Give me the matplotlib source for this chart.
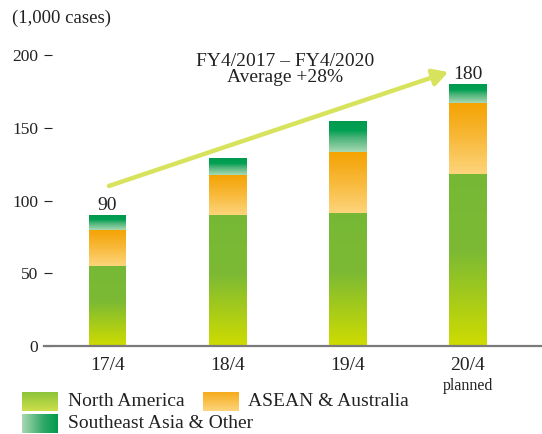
import numpy as np
import matplotlib
matplotlib.use("Agg")
import matplotlib.pyplot as plt
from matplotlib.colors import LinearSegmentedColormap

plt.rcParams['font.family'] = ['Liberation Serif', 'DejaVu Serif']

categories = ["17/4", "18/4", "19/4", "20/4"]
north_america = [55, 90, 91.5, 118]
asean_australia = [25, 27.5, 42, 49]
se_asia_other = [10, 11.5, 21, 13]
totals_labels = {0: "90", 3: "180"}
series_names = ["North America", "ASEAN & Australia", "Southeast Asia & Other"]
yticks = [0, 50, 100, 150, 200]

# gradient colour stops (bottom -> top)
grad_na = [(0.0, "#cfdc00"), (0.55, "#7cba34"), (1.0, "#76b836")]
grad_as = [(0.0, "#fdd57c"), (0.5, "#f8b93a"), (1.0, "#f4a200")]
grad_se = [(0.0, "#a9d9b2"), (0.45, "#4cb47a"), (0.7, "#00a052"), (1.0, "#009a4e")]
cmaps = [LinearSegmentedColormap.from_list(f"g{i}", g) for i, g in enumerate([grad_na, grad_as, grad_se])]

W, H = 542, 434
fig = plt.figure(figsize=(W / 100, H / 100), dpi=100)
ax_left, ax_right = 44, 542
y0_px, ytop_px = 346, 30
ax = fig.add_axes([ax_left / W, 1 - y0_px / H, (ax_right - ax_left) / W, (y0_px - ytop_px) / H])

px_per_unit = 120.0
x0_center = 107.5
upu = 72.75 / 50

bw = 37 / px_per_unit
grad = np.linspace(0, 1, 256).reshape(-1, 1)
x = np.arange(len(categories))
series = [north_america, asean_australia, se_asia_other]
bottom = np.zeros(len(categories))
for s, cm in zip(series, cmaps):
    vals = np.array(s, dtype=float)
    for i in range(len(categories)):
        ax.imshow(grad, cmap=cm, origin='lower', aspect='auto', interpolation='bilinear',
                  extent=(x[i] - bw / 2, x[i] + bw / 2, bottom[i], bottom[i] + vals[i]), zorder=2)
    bottom += vals
ax.set_xlim((ax_left - x0_center) / px_per_unit, (ax_right - x0_center) / px_per_unit)
ax.set_ylim(0, (y0_px - ytop_px) / upu)

for i, lab in totals_labels.items():
    ax.annotate(lab, (x[i], bottom[i]), xytext=(0, 0.5), textcoords='offset points',
                ha='center', va='bottom', fontsize=14, color='#222222')

for sp in ['top', 'right', 'left']:
    ax.spines[sp].set_visible(False)
ax.spines['bottom'].set_color('#7a7a7a')
ax.spines['bottom'].set_linewidth(1.6)
ax.spines['bottom'].set_zorder(3)

ax.set_yticks(yticks)
ax.set_yticklabels([str(v) for v in yticks], fontsize=12.5, color='#222222')
ax.tick_params(axis='y', direction='in', length=6, width=0.8, color='#222222', pad=4)
ax.set_xticks(x)
ax.set_xticklabels(categories, fontsize=14, color='#222222')
ax.tick_params(axis='x', length=0, pad=8)
ax.text(x[3], -0.10, "planned", transform=ax.get_xaxis_transform(), ha='center', va='top',
        fontsize=11.5, color='#222222')

# growth arrow
ax.annotate("", xy=(2.84, 188.3), xytext=(0.012, 110),
            arrowprops=dict(arrowstyle="-|>,head_length=0.9,head_width=0.5", color="#d7e35c",
                            lw=3.2, shrinkA=0, shrinkB=0), zorder=4)
ax.text(1.48, 190, "FY4/2017 – FY4/2020\nAverage +28%", ha='center', va='center',
        fontsize=14, color='#222222', linespacing=0.95)

fig.text(12 / W, 1 - 18 / H, "(1,000 cases)", ha='left', va='center', fontsize=13.5, color='#222222')

# legend drawn in overlay axes (pixel coords)
lg = fig.add_axes([0, 0, 1, 1], zorder=5)
lg.axis('off')
hgrad = np.linspace(0, 1, 256).reshape(1, -1)
items = [(22, 392, series_names[0], 'v', 68),
         (203, 392, series_names[1], 'v', 248),
         (22, 414, series_names[2], 'h', 68)]
leg_na = LinearSegmentedColormap.from_list("lna", [(0, "#cddf4a"), (1, "#8cc43a")])
leg_as = LinearSegmentedColormap.from_list("las", [(0, "#fdd57c"), (1, "#f6ab1c")])
leg_se = LinearSegmentedColormap.from_list("lse", [(0, "#a9d9b2"), (0.6, "#30a867"), (1, "#009a4e")])
for (px, py, name, d, tx), cm in zip(items, [leg_na, leg_as, leg_se]):
    if d == 'v':
        lg.imshow(grad, cmap=cm, origin='lower', aspect='auto',
                  extent=(px, px + 36, py + 19, py), interpolation='bilinear')
    else:
        lg.imshow(hgrad, cmap=cm, aspect='auto', extent=(px, px + 36, py + 19, py),
                  interpolation='bilinear')
    lg.text(tx, py + 10, name, ha='left', va='center', fontsize=14, color='#222222')
lg.set_xlim(0, W)
lg.set_ylim(H, 0)

fig.savefig("out.png", dpi=100)
